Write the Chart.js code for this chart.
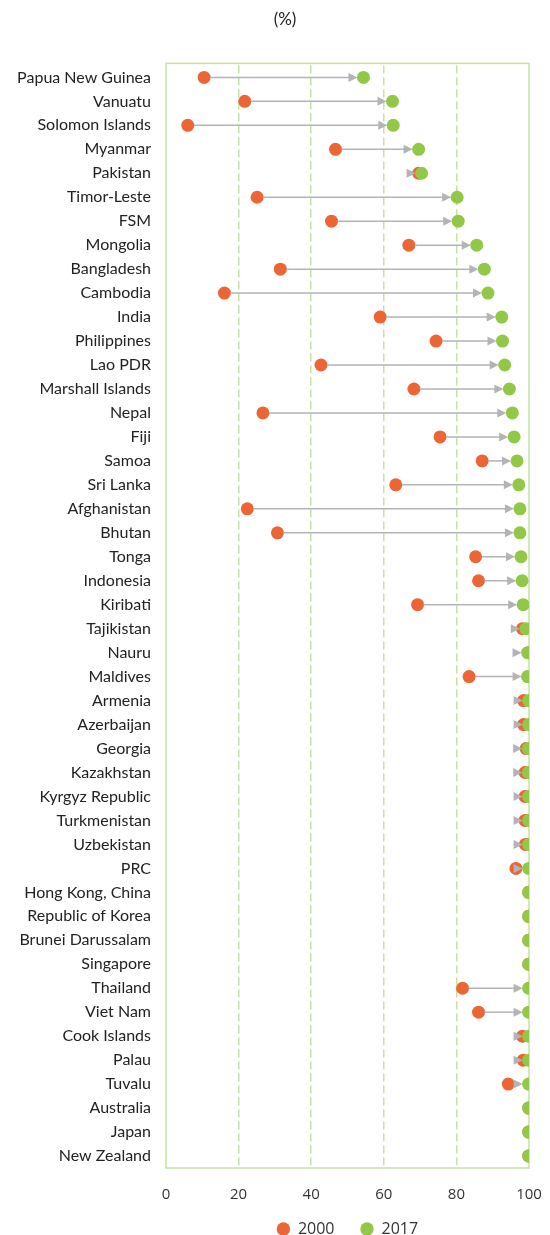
<!DOCTYPE html>
<html>
<head>
<meta charset="utf-8">
<script src="https://cdn.jsdelivr.net/npm/chart.js@4/dist/chart.umd.min.js"></script>
<style>
  body { margin: 0; background: #fff; }
  #wrap { width: 550px; height: 1235px; }
</style>
</head>
<body>
<div id="wrap"><canvas id="chart"></canvas></div>
<script>
const countries = ["Papua New Guinea","Vanuatu","Solomon Islands","Myanmar","Pakistan","Timor-Leste","FSM","Mongolia","Bangladesh","Cambodia","India","Philippines","Lao PDR","Marshall Islands","Nepal","Fiji","Samoa","Sri Lanka","Afghanistan","Bhutan","Tonga","Indonesia","Kiribati","Tajikistan","Nauru","Maldives","Armenia","Azerbaijan","Georgia","Kazakhstan","Kyrgyz Republic","Turkmenistan","Uzbekistan","PRC","Hong Kong, China","Republic of Korea","Brunei Darussalam","Singapore","Thailand","Viet Nam","Cook Islands","Palau","Tuvalu","Australia","Japan","New Zealand"];

const values2000 = [10.5,21.7,6.0,46.7,69.6,25.1,45.6,66.9,31.5,16.1,59.0,74.4,42.7,68.3,26.7,75.5,87.1,63.3,22.4,30.7,85.3,86.1,69.3,98.2,99.9,83.5,98.5,98.5,99.2,98.9,98.9,98.9,99.0,96.4,99.9,99.9,99.9,99.9,81.7,86.1,98.2,98.4,94.3,99.9,99.9,99.9];

const values2017 = [54.4,62.4,62.6,69.6,70.4,80.2,80.5,85.6,87.7,88.7,92.5,92.7,93.3,94.6,95.4,95.9,96.7,97.2,97.5,97.5,97.8,98.1,98.4,99.1,99.6,99.6,99.9,99.9,99.8,99.8,99.9,99.9,99.9,99.9,99.9,99.9,99.9,99.9,99.9,99.9,99.9,99.9,99.9,99.9,99.9,99.9];

const xTicks = [0,20,40,60,80,100];

const ORANGE = '#EC6535';
const GREEN = '#92C847';
const GRID = '#C6E2A3';
const ARROW = '#B3B3B8';

// arrows from 2000 to 2017, drawn after the orange dots and under the green ones
const arrowPlugin = {
  id: 'arrows',
  afterDatasetDraw(chart, args) {
    if (args.index !== 0) return;
    const from = chart.getDatasetMeta(0).data;
    const to = chart.getDatasetMeta(1).data;
    const ctx = chart.ctx;
    ctx.save();
    ctx.strokeStyle = ARROW;
    ctx.fillStyle = ARROW;
    ctx.lineWidth = 1.5;
    for (let i = 0; i < from.length; i++) {
      if (values2000[i] === values2017[i]) continue;
      const a = from[i], b = to[i];
      const tip = b.x - 6;
      const head = 9;
      const start = a.x + 6;
      if (start < tip - head) {
        ctx.beginPath();
        ctx.moveTo(start, a.y);
        ctx.lineTo(tip - head + 1, b.y);
        ctx.stroke();
      }
      ctx.beginPath();
      ctx.moveTo(tip, b.y);
      ctx.lineTo(tip - head, b.y - 4.5);
      ctx.lineTo(tip - head, b.y + 4.5);
      ctx.closePath();
      ctx.fill();
    }
    ctx.restore();
  }
};

// light green frame round the plot area; title and legend nudged like the original
const framePlugin = {
  id: 'frame',
  afterLayout(chart) {
    if (chart.titleBlock) chart.titleBlock.left = 41;
    if (chart.legend) {
      chart.legend.top -= 12;
      chart.legend.bottom -= 12;
    }
  },
  beforeDatasetsDraw(chart) {
    const {ctx, chartArea: c} = chart;
    ctx.save();
    ctx.strokeStyle = GRID;
    ctx.lineWidth = 1.5;
    ctx.strokeRect(c.left, c.top - 2, c.right - c.left, c.bottom - c.top + 2);
    ctx.restore();
  }
};

new Chart(document.getElementById('chart'), {
  type: 'line',
  data: {
    labels: countries,
    datasets: [
      {
        label: '2000',
        data: values2000,
        showLine: false,
        backgroundColor: ORANGE,
        borderColor: ORANGE,
        pointRadius: 6.5,
        pointBorderWidth: 0,
        pointHoverRadius: 6.5,
        order: 1
      },
      {
        label: '2017',
        data: values2017,
        showLine: false,
        backgroundColor: GREEN,
        borderColor: GREEN,
        pointRadius: 6.5,
        pointBorderWidth: 0,
        pointHoverRadius: 6.5,
        order: 0
      }
    ]
  },
  options: {
    indexAxis: 'y',
    responsive: true,
    maintainAspectRatio: false,
    animation: false,
    layout: { padding: { left: 0, right: 21, top: 0, bottom: -24 } },
    scales: {
      x: {
        type: 'linear',
        min: 0,
        max: 100,
        afterBuildTicks: (scale) => { scale.ticks = xTicks.map(v => ({ value: v })); },
        afterFit: (scale) => {
          scale.height = 39;
          scale.paddingLeft = 0;
          scale.paddingRight = 0;
        },
        grid: {
          drawTicks: false,
          lineWidth: 1.5,
          color: (ctx) => (ctx.tick && (ctx.tick.value === 0 || ctx.tick.value === 100)) ? 'rgba(0,0,0,0)' : GRID
        },
        border: { display: false, dash: [8, 4] },
        ticks: {
          padding: 18,
          color: '#333',
          font: { family: 'Open Sans', size: 15 }
        }
      },
      y: {
        type: 'category',
        offset: true,
        afterFit: (scale) => { scale.width = 166; },
        grid: { display: false, drawTicks: false },
        border: { display: false },
        ticks: {
          padding: 15,
          color: '#222',
          autoSkip: false,
          font: { family: 'Lato', size: 16 }
        }
      }
    },
    plugins: {
      title: {
        display: true,
        text: '(%)',
        color: '#222',
        font: { family: 'Lato', size: 17, weight: 'normal' },
        padding: { top: 9, bottom: 36 }
      },
      legend: {
        position: 'bottom',
        fullSize: false,
        labels: {
          usePointStyle: true,
          pointStyle: 'circle',
          boxWidth: 13,
          boxHeight: 9.5,
          padding: 26,
          color: '#333',
          font: { family: 'Open Sans', size: 16 },
          sort: (a, b) => a.datasetIndex - b.datasetIndex
        }
      },
      tooltip: { enabled: false }
    }
  },
  plugins: [framePlugin, arrowPlugin]
});
</script>
</body>
</html>
